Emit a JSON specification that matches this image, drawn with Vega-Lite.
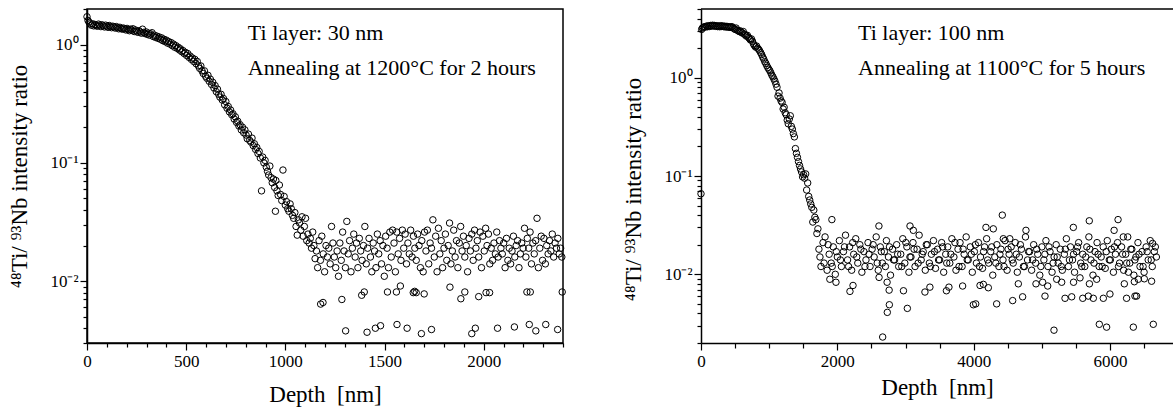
{
"$schema": "https://vega.github.io/schema/vega-lite/v6.json",
"background": "white",
"padding": {"left": 8, "top": 7, "right": 0, "bottom": 0},
"spacing": 53,
"config": {
  "font": "Liberation Serif",
  "view": {"stroke": null},
  "axis": {"labelFont": "Liberation Serif", "titleFont": "Liberation Serif", "labelColor": "black", "titleColor": "black", "domainColor": "black", "tickColor": "black", "domainWidth": 1.5, "tickWidth": 1.2, "grid": false, "labelFontSize": 17, "titleFontSize": 23, "titleFontWeight": "normal", "labelFlush": false}
},
"datasets": {
"left": [
{"d":0,"r":1.72},{"d":5,"r":1.60},{"d":10,"r":1.55},{"d":16,"r":1.50},{"d":22,"r":1.46},{"d":28,"r":1.50},{"d":34,"r":1.44},{"d":40,"r":1.48},{"d":46,"r":1.45},{"d":52,"r":1.43},{"d":58,"r":1.49},{"d":64,"r":1.46},{"d":70,"r":1.42},{"d":76,"r":1.47},{"d":82,"r":1.44},{"d":88,"r":1.41},{"d":94,"r":1.46},{"d":100,"r":1.43},{"d":106,"r":1.40},{"d":112,"r":1.45},{"d":118,"r":1.42},{"d":124,"r":1.39},{"d":130,"r":1.43},{"d":136,"r":1.41},{"d":142,"r":1.38},{"d":148,"r":1.42},{"d":154,"r":1.39},{"d":160,"r":1.36},{"d":166,"r":1.40},{"d":172,"r":1.37},{"d":178,"r":1.35},{"d":184,"r":1.38},{"d":190,"r":1.36},{"d":196,"r":1.33},{"d":202,"r":1.37},{"d":208,"r":1.34},{"d":214,"r":1.31},{"d":220,"r":1.35},{"d":226,"r":1.32},{"d":232,"r":1.36},{"d":238,"r":1.29},{"d":244,"r":1.33},{"d":250,"r":1.30},{"d":256,"r":1.27},{"d":262,"r":1.31},{"d":268,"r":1.28},{"d":274,"r":1.25},{"d":280,"r":1.35},{"d":286,"r":1.27},{"d":292,"r":1.24},{"d":298,"r":1.28},{"d":304,"r":1.22},{"d":310,"r":1.25},{"d":316,"r":1.20},{"d":322,"r":1.23},{"d":328,"r":1.26},{"d":334,"r":1.17},{"d":340,"r":1.20},{"d":346,"r":1.15},{"d":352,"r":1.18},{"d":358,"r":1.13},{"d":364,"r":1.16},{"d":370,"r":1.11},{"d":376,"r":1.14},{"d":382,"r":1.08},{"d":388,"r":1.11},{"d":394,"r":1.06},{"d":400,"r":1.09},{"d":406,"r":1.03},{"d":412,"r":1.06},{"d":418,"r":1.01},{"d":424,"r":1.04},{"d":430,"r":0.98},{"d":436,"r":1.01},{"d":442,"r":0.95},{"d":448,"r":0.98},{"d":454,"r":0.93},{"d":460,"r":0.95},{"d":466,"r":0.90},{"d":472,"r":0.92},{"d":478,"r":0.87},{"d":484,"r":0.89},{"d":490,"r":0.84},{"d":496,"r":0.86},{"d":502,"r":0.81},{"d":508,"r":0.84},{"d":514,"r":0.78},{"d":520,"r":0.80},{"d":526,"r":0.75},{"d":532,"r":0.77},{"d":538,"r":0.72},{"d":544,"r":0.75},{"d":550,"r":0.69},{"d":556,"r":0.72},{"d":562,"r":0.66},{"d":568,"r":0.63},{"d":574,"r":0.66},{"d":580,"r":0.60},{"d":586,"r":0.57},{"d":592,"r":0.60},{"d":598,"r":0.54},{"d":604,"r":0.52},{"d":610,"r":0.55},{"d":616,"r":0.49},{"d":622,"r":0.51},{"d":628,"r":0.46},{"d":634,"r":0.48},{"d":640,"r":0.43},{"d":646,"r":0.45},{"d":652,"r":0.40},{"d":658,"r":0.42},{"d":664,"r":0.38},{"d":670,"r":0.36},{"d":676,"r":0.38},{"d":682,"r":0.34},{"d":688,"r":0.35},{"d":694,"r":0.31},{"d":700,"r":0.33},{"d":706,"r":0.29},{"d":712,"r":0.30},{"d":718,"r":0.27},{"d":724,"r":0.28},{"d":730,"r":0.255},{"d":736,"r":0.26},{"d":742,"r":0.235},{"d":748,"r":0.245},{"d":754,"r":0.22},{"d":760,"r":0.225},{"d":766,"r":0.205},{"d":772,"r":0.21},{"d":778,"r":0.19},{"d":784,"r":0.20},{"d":790,"r":0.18},{"d":796,"r":0.19},{"d":802,"r":0.172},{"d":808,"r":0.16},{"d":814,"r":0.175},{"d":820,"r":0.155},{"d":826,"r":0.15},{"d":832,"r":0.162},{"d":838,"r":0.14},{"d":844,"r":0.145},{"d":850,"r":0.13},{"d":856,"r":0.135},{"d":862,"r":0.12},{"d":868,"r":0.125},{"d":874,"r":0.11},{"d":880,"r":0.058},{"d":886,"r":0.112},{"d":892,"r":0.10},{"d":898,"r":0.105},{"d":904,"r":0.092},{"d":910,"r":0.085},{"d":916,"r":0.079},{"d":922,"r":0.094},{"d":928,"r":0.075},{"d":934,"r":0.068},{"d":940,"r":0.073},{"d":946,"r":0.062},{"d":950,"r":0.039},{"d":952,"r":0.071},{"d":958,"r":0.058},{"d":964,"r":0.053},{"d":970,"r":0.065},{"d":976,"r":0.054},{"d":982,"r":0.048},{"d":988,"r":0.087},{"d":994,"r":0.052},{"d":1000,"r":0.044},{"d":1006,"r":0.047},{"d":1012,"r":0.041},{"d":1018,"r":0.039},{"d":1024,"r":0.045},{"d":1030,"r":0.041},{"d":1036,"r":0.036},{"d":1042,"r":0.034},{"d":1048,"r":0.038},{"d":1054,"r":0.029},{"d":1060,"r":0.0245},{"d":1066,"r":0.033},{"d":1072,"r":0.031},{"d":1078,"r":0.027},{"d":1084,"r":0.035},{"d":1090,"r":0.024},{"d":1096,"r":0.029},{"d":1102,"r":0.034},{"d":1108,"r":0.022},{"d":1114,"r":0.025},{"d":1120,"r":0.021},{"d":1126,"r":0.023},{"d":1132,"r":0.019},{"d":1138,"r":0.026},{"d":1144,"r":0.020},{"d":1150,"r":0.0155},
{"d":1157,"r":0.018},{"d":1163,"r":0.013},{"d":1170,"r":0.022},{"d":1177,"r":0.015},{"d":1184,"r":0.024},{"d":1191,"r":0.017},{"d":1198,"r":0.012},{"d":1205,"r":0.020},{"d":1212,"r":0.016},{"d":1219,"r":0.019},{"d":1226,"r":0.014},{"d":1233,"r":0.029},{"d":1240,"r":0.021},{"d":1247,"r":0.016},{"d":1254,"r":0.013},{"d":1261,"r":0.018},{"d":1268,"r":0.011},{"d":1275,"r":0.021},{"d":1282,"r":0.015},{"d":1289,"r":0.026},{"d":1296,"r":0.018},{"d":1303,"r":0.013},{"d":1310,"r":0.032},{"d":1317,"r":0.017},{"d":1324,"r":0.022},{"d":1331,"r":0.012},{"d":1338,"r":0.019},{"d":1345,"r":0.025},{"d":1352,"r":0.016},{"d":1359,"r":0.021},{"d":1366,"r":0.013},{"d":1373,"r":0.023},{"d":1380,"r":0.018},{"d":1387,"r":0.015},{"d":1394,"r":0.020},{"d":1401,"r":0.029},{"d":1408,"r":0.014},{"d":1415,"r":0.019},{"d":1422,"r":0.023},{"d":1429,"r":0.016},{"d":1436,"r":0.012},{"d":1443,"r":0.021},{"d":1450,"r":0.018},{"d":1457,"r":0.013},{"d":1464,"r":0.025},{"d":1471,"r":0.017},{"d":1478,"r":0.022},{"d":1485,"r":0.014},{"d":1492,"r":0.020},{"d":1499,"r":0.011},{"d":1506,"r":0.024},{"d":1513,"r":0.019},{"d":1520,"r":0.013},{"d":1527,"r":0.026},{"d":1534,"r":0.016},{"d":1541,"r":0.027},{"d":1548,"r":0.021},{"d":1555,"r":0.012},{"d":1562,"r":0.026},{"d":1569,"r":0.017},{"d":1576,"r":0.023},{"d":1583,"r":0.015},{"d":1590,"r":0.027},{"d":1597,"r":0.019},{"d":1604,"r":0.025},{"d":1611,"r":0.014},{"d":1618,"r":0.021},{"d":1625,"r":0.017},{"d":1632,"r":0.027},{"d":1639,"r":0.016},{"d":1646,"r":0.024},{"d":1653,"r":0.019},{"d":1660,"r":0.015},{"d":1667,"r":0.025},{"d":1674,"r":0.020},{"d":1681,"r":0.013},{"d":1688,"r":0.022},{"d":1695,"r":0.012},{"d":1702,"r":0.026},{"d":1709,"r":0.018},{"d":1716,"r":0.027},{"d":1723,"r":0.014},{"d":1730,"r":0.021},{"d":1737,"r":0.019},{"d":1744,"r":0.033},{"d":1751,"r":0.016},{"d":1758,"r":0.024},{"d":1765,"r":0.012},{"d":1772,"r":0.028},{"d":1779,"r":0.017},{"d":1786,"r":0.022},{"d":1793,"r":0.013},{"d":1800,"r":0.019},{"d":1807,"r":0.025},{"d":1814,"r":0.015},{"d":1821,"r":0.020},{"d":1828,"r":0.031},{"d":1835,"r":0.014},{"d":1842,"r":0.018},{"d":1849,"r":0.027},{"d":1856,"r":0.016},{"d":1863,"r":0.022},{"d":1870,"r":0.013},{"d":1877,"r":0.021},{"d":1884,"r":0.029},{"d":1891,"r":0.018},{"d":1898,"r":0.024},{"d":1905,"r":0.016},{"d":1912,"r":0.020},{"d":1919,"r":0.012},{"d":1926,"r":0.023},{"d":1933,"r":0.018},{"d":1940,"r":0.025},{"d":1947,"r":0.015},{"d":1954,"r":0.027},{"d":1961,"r":0.019},{"d":1968,"r":0.022},{"d":1975,"r":0.016},{"d":1982,"r":0.026},{"d":1989,"r":0.013},{"d":1996,"r":0.024},{"d":2003,"r":0.018},{"d":2010,"r":0.028},{"d":2017,"r":0.020},{"d":2024,"r":0.025},{"d":2031,"r":0.014},{"d":2038,"r":0.019},{"d":2045,"r":0.015},{"d":2052,"r":0.021},{"d":2059,"r":0.017},{"d":2066,"r":0.026},{"d":2073,"r":0.016},{"d":2080,"r":0.022},{"d":2087,"r":0.019},{"d":2094,"r":0.017},{"d":2101,"r":0.021},{"d":2108,"r":0.013},{"d":2115,"r":0.023},{"d":2122,"r":0.015},{"d":2129,"r":0.019},{"d":2136,"r":0.014},{"d":2143,"r":0.018},{"d":2150,"r":0.024},{"d":2157,"r":0.016},{"d":2164,"r":0.020},{"d":2171,"r":0.022},{"d":2178,"r":0.013},{"d":2185,"r":0.017},{"d":2192,"r":0.021},{"d":2199,"r":0.019},{"d":2206,"r":0.028},{"d":2213,"r":0.016},{"d":2220,"r":0.023},{"d":2227,"r":0.019},{"d":2234,"r":0.026},{"d":2241,"r":0.014},{"d":2248,"r":0.021},{"d":2255,"r":0.017},{"d":2262,"r":0.022},{"d":2269,"r":0.034},{"d":2276,"r":0.013},{"d":2283,"r":0.019},{"d":2290,"r":0.024},{"d":2297,"r":0.015},{"d":2304,"r":0.023},{"d":2311,"r":0.014},{"d":2318,"r":0.020},{"d":2325,"r":0.017},{"d":2332,"r":0.022},{"d":2339,"r":0.018},{"d":2346,"r":0.025},{"d":2353,"r":0.016},{"d":2360,"r":0.021},{"d":2367,"r":0.019},{"d":2374,"r":0.023},{"d":2381,"r":0.017},{"d":2388,"r":0.019},{"d":2394,"r":0.016},
{"d":1304,"r":0.0038},{"d":1412,"r":0.0037},{"d":1454,"r":0.004},{"d":1480,"r":0.0042},{"d":1563,"r":0.0043},{"d":1614,"r":0.004},{"d":1686,"r":0.0036},{"d":1737,"r":0.0039},{"d":1940,"r":0.0036},{"d":1958,"r":0.004},{"d":2070,"r":0.004},{"d":2155,"r":0.0041},{"d":2230,"r":0.0043},{"d":2263,"r":0.0038},{"d":2313,"r":0.0043},{"d":2373,"r":0.0039},
{"d":1178,"r":0.0064},{"d":1190,"r":0.0066},{"d":1285,"r":0.007},
{"d":1385,"r":0.0076},{"d":1398,"r":0.0081},{"d":1515,"r":0.0081},{"d":1560,"r":0.0081},{"d":1580,"r":0.0091},{"d":1645,"r":0.008},{"d":1652,"r":0.0082},{"d":1660,"r":0.008},{"d":1700,"r":0.0078},{"d":1830,"r":0.0089},{"d":1885,"r":0.0071},{"d":1905,"r":0.0081},{"d":1975,"r":0.0074},{"d":2012,"r":0.008},{"d":2030,"r":0.008},{"d":2218,"r":0.0081},{"d":2235,"r":0.0081},{"d":2396,"r":0.0081}
],
"right": [
{"d":0,"r":0.066},{"d":10,"r":3.1},{"d":20,"r":3.2},{"d":35,"r":3.25},{"d":50,"r":3.3},{"d":65,"r":3.28},{"d":80,"r":3.35},{"d":95,"r":3.3},{"d":110,"r":3.38},{"d":125,"r":3.32},{"d":140,"r":3.4},{"d":155,"r":3.35},{"d":170,"r":3.42},{"d":185,"r":3.36},{"d":200,"r":3.4},{"d":215,"r":3.33},{"d":230,"r":3.38},{"d":245,"r":3.31},{"d":260,"r":3.36},{"d":275,"r":3.3},{"d":290,"r":3.38},{"d":305,"r":3.32},{"d":320,"r":3.36},{"d":335,"r":3.3},{"d":350,"r":3.34},{"d":365,"r":3.28},{"d":380,"r":3.33},{"d":395,"r":3.27},{"d":410,"r":3.3},{"d":425,"r":3.25},{"d":440,"r":3.28},{"d":455,"r":3.3},{"d":470,"r":3.22},{"d":485,"r":3.15},{"d":500,"r":3.1},{"d":515,"r":3.2},{"d":530,"r":3.05},{"d":545,"r":3.0},{"d":560,"r":2.95},{"d":575,"r":3.0},{"d":590,"r":2.9},{"d":605,"r":2.85},{"d":620,"r":2.95},{"d":635,"r":2.78},{"d":650,"r":2.72},{"d":665,"r":2.65},{"d":680,"r":2.7},{"d":695,"r":2.58},{"d":710,"r":2.5},{"d":725,"r":2.42},{"d":740,"r":2.48},{"d":755,"r":2.35},{"d":770,"r":2.2},{"d":785,"r":2.12},{"d":800,"r":2.05},{"d":815,"r":2.1},{"d":830,"r":2.0},{"d":845,"r":1.95},{"d":860,"r":1.88},{"d":875,"r":1.8},{"d":890,"r":1.72},{"d":905,"r":1.62},{"d":920,"r":1.55},{"d":935,"r":1.46},{"d":950,"r":1.4},{"d":965,"r":1.33},{"d":980,"r":1.27},{"d":995,"r":1.22},{"d":1010,"r":1.18},{"d":1025,"r":1.12},{"d":1040,"r":1.06},{"d":1055,"r":1.02},{"d":1070,"r":0.97},{"d":1085,"r":0.92},{"d":1100,"r":0.86},{"d":1115,"r":0.8},{"d":1130,"r":0.65},{"d":1145,"r":0.7},{"d":1160,"r":0.62},{"d":1175,"r":0.58},{"d":1190,"r":0.56},{"d":1205,"r":0.48},{"d":1220,"r":0.5},{"d":1235,"r":0.44},{"d":1250,"r":0.42},{"d":1265,"r":0.37},{"d":1280,"r":0.34},{"d":1295,"r":0.38},{"d":1310,"r":0.41},{"d":1325,"r":0.32},{"d":1340,"r":0.3},{"d":1355,"r":0.27},{"d":1370,"r":0.25},{"d":1385,"r":0.19},{"d":1400,"r":0.17},{"d":1415,"r":0.155},{"d":1430,"r":0.14},{"d":1445,"r":0.128},{"d":1460,"r":0.118},{"d":1475,"r":0.11},{"d":1490,"r":0.098},{"d":1505,"r":0.103},{"d":1520,"r":0.095},{"d":1535,"r":0.105},{"d":1550,"r":0.072},{"d":1565,"r":0.085},{"d":1580,"r":0.062},{"d":1595,"r":0.057},{"d":1610,"r":0.052},{"d":1625,"r":0.048},{"d":1640,"r":0.034},{"d":1655,"r":0.045},{"d":1670,"r":0.038},{"d":1685,"r":0.036},{"d":1700,"r":0.026},{"d":1715,"r":0.029},
{"d":1730,"r":0.018},{"d":1760,"r":0.012},{"d":1790,"r":0.021},{"d":1820,"r":0.024},{"d":1850,"r":0.011},{"d":1880,"r":0.016},{"d":1910,"r":0.013},{"d":1940,"r":0.019},{"d":1970,"r":0.010},{"d":2000,"r":0.015},{"d":2030,"r":0.022},{"d":2060,"r":0.012},{"d":2090,"r":0.017},{"d":2120,"r":0.025},{"d":2150,"r":0.014},{"d":2180,"r":0.019},{"d":2210,"r":0.011},{"d":2240,"r":0.016},{"d":2270,"r":0.023},{"d":2300,"r":0.013},{"d":2330,"r":0.020},{"d":2360,"r":0.0105},{"d":2390,"r":0.017},{"d":2420,"r":0.014},{"d":2450,"r":0.021},{"d":2480,"r":0.012},{"d":2510,"r":0.018},{"d":2540,"r":0.015},{"d":2570,"r":0.024},{"d":2600,"r":0.011},{"d":2630,"r":0.019},{"d":2660,"r":0.013},{"d":2690,"r":0.017},{"d":2720,"r":0.022},{"d":2750,"r":0.015},{"d":2780,"r":0.0098},{"d":2810,"r":0.018},{"d":2840,"r":0.014},{"d":2870,"r":0.020},{"d":2900,"r":0.012},{"d":2930,"r":0.016},{"d":2960,"r":0.023},{"d":2990,"r":0.013},{"d":3020,"r":0.019},{"d":3050,"r":0.0105},{"d":3080,"r":0.015},{"d":3110,"r":0.021},{"d":3140,"r":0.012},{"d":3170,"r":0.018},{"d":3200,"r":0.025},{"d":3230,"r":0.014},{"d":3260,"r":0.017},{"d":3290,"r":0.011},{"d":3320,"r":0.020},{"d":3350,"r":0.013},{"d":3380,"r":0.016},{"d":3410,"r":0.022},{"d":3440,"r":0.0115},{"d":3470,"r":0.018},{"d":3500,"r":0.014},{"d":3530,"r":0.021},{"d":3560,"r":0.0105},{"d":3590,"r":0.016},{"d":3620,"r":0.019},{"d":3650,"r":0.013},{"d":3680,"r":0.023},{"d":3710,"r":0.015},{"d":3740,"r":0.011},{"d":3770,"r":0.018},{"d":3800,"r":0.021},{"d":3830,"r":0.012},{"d":3860,"r":0.016},{"d":3890,"r":0.024},{"d":3920,"r":0.014},{"d":3950,"r":0.019},{"d":3980,"r":0.0105},{"d":4010,"r":0.017},{"d":4040,"r":0.013},{"d":4070,"r":0.021},{"d":4100,"r":0.015},{"d":4130,"r":0.0115},{"d":4160,"r":0.019},{"d":4190,"r":0.023},{"d":4220,"r":0.013},{"d":4250,"r":0.017},{"d":4280,"r":0.0098},{"d":4310,"r":0.015},{"d":4340,"r":0.020},{"d":4370,"r":0.012},{"d":4400,"r":0.018},{"d":4430,"r":0.014},{"d":4460,"r":0.022},{"d":4490,"r":0.011},{"d":4520,"r":0.016},{"d":4550,"r":0.019},{"d":4580,"r":0.013},{"d":4610,"r":0.021},{"d":4640,"r":0.0105},{"d":4670,"r":0.015},{"d":4700,"r":0.018},{"d":4730,"r":0.012},{"d":4760,"r":0.024},{"d":4790,"r":0.014},{"d":4820,"r":0.017},{"d":4850,"r":0.011},{"d":4880,"r":0.020},{"d":4910,"r":0.013},{"d":4940,"r":0.016},{"d":4970,"r":0.0098},{"d":5000,"r":0.019},{"d":5030,"r":0.014},{"d":5060,"r":0.022},{"d":5090,"r":0.012},{"d":5120,"r":0.017},{"d":5150,"r":0.0105},{"d":5180,"r":0.015},{"d":5210,"r":0.020},{"d":5240,"r":0.013},{"d":5270,"r":0.018},{"d":5300,"r":0.011},{"d":5330,"r":0.016},{"d":5360,"r":0.023},{"d":5390,"r":0.012},{"d":5420,"r":0.019},{"d":5450,"r":0.014},{"d":5480,"r":0.0105},{"d":5510,"r":0.017},{"d":5540,"r":0.021},{"d":5570,"r":0.013},{"d":5600,"r":0.016},{"d":5630,"r":0.012},{"d":5660,"r":0.019},{"d":5690,"r":0.024},{"d":5720,"r":0.014},{"d":5750,"r":0.0098},{"d":5780,"r":0.017},{"d":5810,"r":0.021},{"d":5840,"r":0.012},{"d":5870,"r":0.015},{"d":5900,"r":0.019},{"d":5930,"r":0.0115},{"d":5960,"r":0.022},{"d":5990,"r":0.014},{"d":6020,"r":0.018},{"d":6050,"r":0.0105},{"d":6080,"r":0.016},{"d":6110,"r":0.021},{"d":6140,"r":0.013},{"d":6170,"r":0.019},{"d":6200,"r":0.011},{"d":6230,"r":0.016},{"d":6260,"r":0.024},{"d":6290,"r":0.013},{"d":6320,"r":0.018},{"d":6350,"r":0.0098},{"d":6380,"r":0.015},{"d":6410,"r":0.021},{"d":6440,"r":0.012},{"d":6470,"r":0.017},{"d":6500,"r":0.0105},{"d":6530,"r":0.019},{"d":6560,"r":0.014},{"d":6590,"r":0.022},{"d":6620,"r":0.012},{"d":6650,"r":0.017},{"d":6680,"r":0.015},
{"d":1745,"r":0.015},{"d":1805,"r":0.013},{"d":1865,"r":0.020},{"d":1925,"r":0.012},{"d":1985,"r":0.017},{"d":2045,"r":0.014},{"d":2105,"r":0.019},{"d":2165,"r":0.012},{"d":2225,"r":0.021},{"d":2285,"r":0.015},{"d":2345,"r":0.018},{"d":2405,"r":0.012},{"d":2465,"r":0.016},{"d":2525,"r":0.020},{"d":2585,"r":0.013},{"d":2645,"r":0.017},{"d":2705,"r":0.012},{"d":2765,"r":0.019},{"d":2825,"r":0.014},{"d":2885,"r":0.016},{"d":2945,"r":0.012},{"d":3005,"r":0.021},{"d":3065,"r":0.015},{"d":3125,"r":0.018},{"d":3185,"r":0.013},{"d":3245,"r":0.016},{"d":3305,"r":0.020},{"d":3365,"r":0.012},{"d":3425,"r":0.017},{"d":3485,"r":0.014},{"d":3545,"r":0.019},{"d":3605,"r":0.013},{"d":3665,"r":0.016},{"d":3725,"r":0.021},{"d":3785,"r":0.012},{"d":3845,"r":0.018},{"d":3905,"r":0.014},{"d":3965,"r":0.016},{"d":4025,"r":0.020},{"d":4085,"r":0.012},{"d":4145,"r":0.017},{"d":4205,"r":0.014},{"d":4265,"r":0.019},{"d":4325,"r":0.013},{"d":4385,"r":0.016},{"d":4445,"r":0.012},{"d":4505,"r":0.018},{"d":4565,"r":0.014},{"d":4625,"r":0.016},{"d":4685,"r":0.020},{"d":4745,"r":0.012},{"d":4805,"r":0.017},{"d":4865,"r":0.014},{"d":4925,"r":0.018},{"d":4985,"r":0.012},{"d":5045,"r":0.016},{"d":5105,"r":0.019},{"d":5165,"r":0.013},{"d":5225,"r":0.015},{"d":5285,"r":0.012},{"d":5345,"r":0.018},{"d":5405,"r":0.014},{"d":5465,"r":0.016},{"d":5525,"r":0.019},{"d":5585,"r":0.012},{"d":5645,"r":0.015},{"d":5705,"r":0.018},{"d":5765,"r":0.013},{"d":5825,"r":0.016},{"d":5885,"r":0.012},{"d":5945,"r":0.017},{"d":6005,"r":0.014},{"d":6065,"r":0.019},{"d":6125,"r":0.012},{"d":6185,"r":0.016},{"d":6245,"r":0.013},{"d":6305,"r":0.018},{"d":6365,"r":0.014},{"d":6425,"r":0.016},{"d":6485,"r":0.012},{"d":6545,"r":0.017},{"d":6605,"r":0.014},{"d":6665,"r":0.019},
{"d":1890,"r":0.0089},{"d":1920,"r":0.036},{"d":1980,"r":0.0083},{"d":2185,"r":0.0067},{"d":2230,"r":0.0077},{"d":2610,"r":0.031},{"d":2612,"r":0.0093},{"d":2665,"r":0.0023},{"d":2733,"r":0.0041},{"d":2763,"r":0.0049},{"d":2730,"r":0.0083},{"d":2760,"r":0.0069},{"d":2970,"r":0.0068},{"d":3027,"r":0.0045},{"d":3066,"r":0.031},{"d":3115,"r":0.028},{"d":3285,"r":0.0066},{"d":3358,"r":0.0074},{"d":3600,"r":0.0068},{"d":3637,"r":0.0074},{"d":3838,"r":0.0076},{"d":3995,"r":0.0049},{"d":4030,"r":0.005},{"d":4093,"r":0.0077},{"d":4142,"r":0.0079},{"d":4180,"r":0.030},{"d":4215,"r":0.0073},{"d":4288,"r":0.029},{"d":4337,"r":0.005},{"d":4420,"r":0.040},{"d":4435,"r":0.023},{"d":4530,"r":0.023},{"d":4572,"r":0.0054},{"d":4655,"r":0.008},{"d":4718,"r":0.0059},{"d":4767,"r":0.028},{"d":4914,"r":0.008},{"d":5012,"r":0.0083},{"d":5046,"r":0.006},{"d":5086,"r":0.0076},{"d":5178,"r":0.0027},{"d":5218,"r":0.0089},{"d":5291,"r":0.0083},{"d":5340,"r":0.0057},{"d":5438,"r":0.0059},{"d":5462,"r":0.030},{"d":5465,"r":0.0083},{"d":5560,"r":0.0092},{"d":5600,"r":0.0057},{"d":5682,"r":0.006},{"d":5696,"r":0.035},{"d":5698,"r":0.008},{"d":5755,"r":0.0057},{"d":5804,"r":0.0089},{"d":5843,"r":0.0031},{"d":5902,"r":0.0057},{"d":5950,"r":0.0029},{"d":5999,"r":0.0063},{"d":6060,"r":0.028},{"d":6118,"r":0.036},{"d":6195,"r":0.024},{"d":6210,"r":0.008},{"d":6243,"r":0.0057},{"d":6270,"r":0.0105},{"d":6342,"r":0.0029},{"d":6357,"r":0.0084},{"d":6366,"r":0.006},{"d":6390,"r":0.006},{"d":6415,"r":0.0089},{"d":6503,"r":0.009},{"d":6610,"r":0.0085},{"d":6625,"r":0.0206},{"d":6635,"r":0.0031}
]
},
"hconcat": [
{
  "width": 476, "height": 334,
  "view": {"stroke": "black", "strokeWidth": 1.5},
  "resolve": {"axis": {"x": "independent"}},
  "layer": [
    {
      "data": {"name": "left"},
      "mark": {"type": "point", "shape": "circle", "filled": false, "stroke": "black", "strokeWidth": 1, "size": 42, "opacity": 1},
      "encoding": {
        "x": {"field": "d", "type": "quantitative",
              "scale": {"domain": [0, 2400], "nice": false, "zero": false},
              "axis": {"orient": "bottom", "values": [0,500,1000,1500,2000], "format": "d", "tickSize": 7,
                       "labelPadding": 3, "labelFlush": false,
                       "title": "Depth\u00a0\u00a0[nm]", "titlePadding": 14}},
        "y": {"field": "r", "type": "quantitative",
              "scale": {"type": "log", "domain": [0.003, 2], "nice": false},
              "axis": {"values": [0.003,0.004,0.005,0.006,0.007,0.008,0.009,0.01,0.02,0.03,0.04,0.05,0.06,0.07,0.08,0.09,0.1,0.2,0.3,0.4,0.5,0.6,0.7,0.8,0.9,1,2],
                       "labelExpr": "datum.value === 1 ? '10⁰' : datum.value === 0.1 ? '10⁻¹' : datum.value === 0.01 ? '10⁻²' : ''",
                       "labelFontSize": {"condition": {"test": "datum.value === 1 || datum.value === 0.1 || datum.value === 0.01", "value": 17}, "value": 0},
                       "tickSize": {"condition": {"test": "datum.value === 1 || datum.value === 0.1 || datum.value === 0.01", "value": 7}, "value": 4},
                       "labelPadding": 2, "labelFlush": false, "labelOverlap": false,
                       "title": "⁴⁸Ti/ ⁹³Nb intensity ratio", "titlePadding": 18}}
      }
    },
    {"data": {"values": [{}]},
     "mark": {"type": "point", "opacity": 0},
     "encoding": {
       "x": {"datum": 0, "type": "quantitative",
             "axis": {"orient": "bottom", "values": [100,200,300,400,600,700,800,900,1100,1200,1300,1400,1600,1700,1800,1900,2100,2200,2300,2400], "labels": false, "domain": false, "tickSize": 4, "title": null, "grid": false}},
       "y": {"datum": 1, "type": "quantitative"}}},
    {"data": {"values": [{}]},
     "mark": {"type": "text", "align": "left", "baseline": "alphabetic", "fontSize": 22, "font": "Liberation Serif", "color": "black", "text": "Ti layer: 30 nm"},
     "encoding": {"x": {"datum": 811, "axis": null}, "y": {"datum": 1.10}}},
    {"data": {"values": [{}]},
     "mark": {"type": "text", "align": "left", "baseline": "alphabetic", "fontSize": 22, "font": "Liberation Serif", "color": "black", "text": "Annealing at 1200°C for 2 hours"},
     "encoding": {"x": {"datum": 811, "axis": null}, "y": {"datum": 0.557}}}
  ]
},
{
  "width": 472, "height": 334,
  "view": {"stroke": null},
  "resolve": {"axis": {"x": "independent"}},
  "layer": [
    {
      "data": {"name": "right"},
      "mark": {"type": "point", "shape": "circle", "filled": false, "stroke": "black", "strokeWidth": 1, "size": 42, "opacity": 1},
      "encoding": {
        "x": {"field": "d", "type": "quantitative",
              "scale": {"domain": [0, 6924], "nice": false, "zero": false},
              "axis": {"orient": "bottom", "values": [0,2000,4000,6000], "format": "d", "tickSize": 7,
                       "labelPadding": 3, "labelFlush": false,
                       "title": "Depth\u00a0\u00a0[nm]", "titlePadding": 7}},
        "y": {"field": "r", "type": "quantitative",
              "scale": {"type": "log", "domain": [0.002, 5], "nice": false},
              "axis": {"values": [0.002,0.003,0.004,0.005,0.006,0.007,0.008,0.009,0.01,0.02,0.03,0.04,0.05,0.06,0.07,0.08,0.09,0.1,0.2,0.3,0.4,0.5,0.6,0.7,0.8,0.9,1,2,3,4,5],
                       "labelExpr": "datum.value === 1 ? '10⁰' : datum.value === 0.1 ? '10⁻¹' : datum.value === 0.01 ? '10⁻²' : ''",
                       "labelFontSize": {"condition": {"test": "datum.value === 1 || datum.value === 0.1 || datum.value === 0.01", "value": 17}, "value": 0},
                       "tickSize": {"condition": {"test": "datum.value === 1 || datum.value === 0.1 || datum.value === 0.01", "value": 7}, "value": 4},
                       "labelPadding": 2, "labelFlush": false, "labelOverlap": false,
                       "title": "⁴⁸Ti/ ⁹³Nb intensity ratio", "titlePadding": 18, "titleY": 180}}
      }
    },
    {"data": {"values": [{}]},
     "mark": {"type": "point", "opacity": 0},
     "encoding": {
       "x": {"datum": 0, "type": "quantitative",
             "axis": {"orient": "bottom", "values": [500,1000,1500,2500,3000,3500,4500,5000,5500,6500], "labels": false, "domain": false, "tickSize": 5, "title": null, "grid": false}},
       "y": {"datum": 1, "type": "quantitative"}}},
    {"data": {"values": [{}]},
     "mark": {"type": "rule", "stroke": "black", "strokeWidth": 1.5},
     "encoding": {"y": {"datum": 5}}},
    {"data": {"values": [{}]},
     "mark": {"type": "text", "align": "left", "baseline": "alphabetic", "fontSize": 22, "font": "Liberation Serif", "color": "black", "text": "Ti layer: 100 nm"},
     "encoding": {"x": {"datum": 2303, "axis": null}, "y": {"datum": 2.44}}},
    {"data": {"values": [{}]},
     "mark": {"type": "text", "align": "left", "baseline": "alphabetic", "fontSize": 22, "font": "Liberation Serif", "color": "black", "text": "Annealing at 1100°C for 5 hours"},
     "encoding": {"x": {"datum": 2303, "axis": null}, "y": {"datum": 1.07}}}
  ]
}
]
}
